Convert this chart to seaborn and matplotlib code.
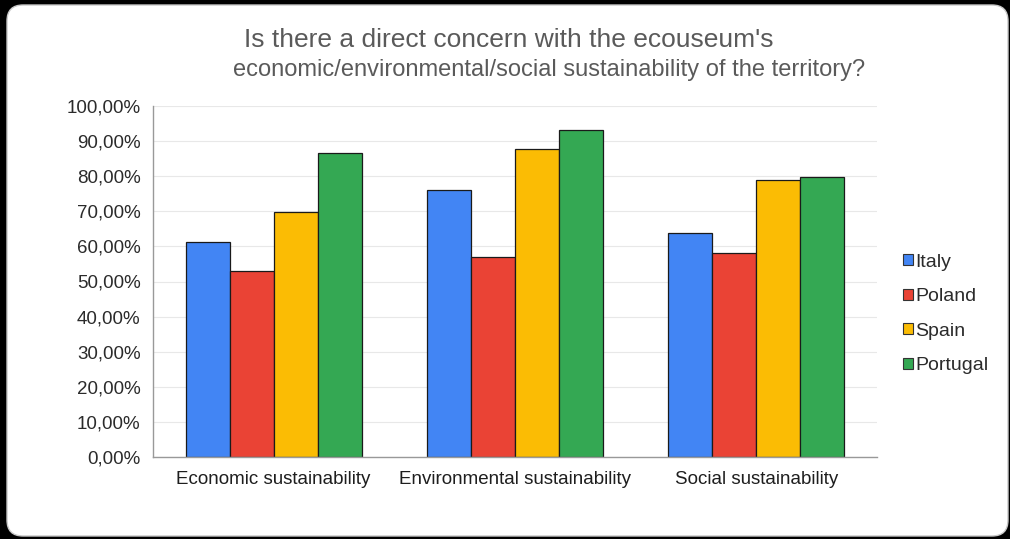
import matplotlib
matplotlib.use("Agg")
import matplotlib.pyplot as plt
from matplotlib.patches import FancyBboxPatch, Patch
import seaborn as sns
import pandas as pd

categories = ["Economic sustainability", "Environmental sustainability", "Social sustainability"]
countries = ["Italy", "Poland", "Spain", "Portugal"]
italy = [61.3, 76.1, 63.9]
poland = [53.0, 57.1, 58.0]
spain = [69.9, 87.7, 78.9]
portugal = [86.5, 93.2, 79.8]
colors = ["#4285F4", "#EA4335", "#FBBC04", "#34A853"]
title_lines = ["Is there a direct concern with the ecouseum's",
               "economic/environmental/social sustainability of the territory?"]

rows = []
for country, vals in zip(countries, [italy, poland, spain, portugal]):
    for cat, v in zip(categories, vals):
        rows.append({"category": cat, "country": country, "value": v})
df = pd.DataFrame(rows)

sns.set_theme(style="white")
plt.rcParams["font.family"] = ["Liberation Sans", "DejaVu Sans"]

fig = plt.figure(figsize=(10.1, 5.39), dpi=100, facecolor="black")
bgax = fig.add_axes([0, 0, 1, 1], zorder=-5)
bgax.set_axis_off()
bgax.set_xlim(0, 1010)
bgax.set_ylim(539, 0)
bg = FancyBboxPatch((7, 5), 1001, 531,
                    boxstyle="round,pad=0,rounding_size=16",
                    facecolor="white", edgecolor="#c8c8c8", linewidth=1.0)
bgax.add_patch(bg)

ax = fig.add_axes([153 / 1010, 1 - 457 / 539, (877 - 153) / 1010, (457 - 106) / 539], zorder=1)
ax.set_facecolor("none")
sns.barplot(data=df, x="category", y="value", hue="country", order=categories,
            hue_order=countries, palette=colors, width=0.73, ax=ax,
            edgecolor="#1a1a1a", linewidth=0.9, saturation=1, legend=False)

ax.set_ylim(0, 100)
ax.set_xlim(-0.5, 2.5)
ax.set_yticks(range(0, 101, 10))
ax.set_yticklabels([f"{v},00%" for v in range(0, 101, 10)], color="#2b2b2b", fontsize=13.5)
ax.tick_params(axis="x", labelsize=13.5, labelcolor="#1e1e1e", pad=10, length=0)
ax.tick_params(axis="y", pad=9, length=0)
ax.yaxis.grid(True, color="#e8e8e8", linewidth=0.8)
ax.set_axisbelow(True)
ax.set_xlabel("")
ax.set_ylabel("")
for s in ["top", "right"]:
    ax.spines[s].set_visible(False)
ax.spines["left"].set_color("#999999")
ax.spines["bottom"].set_color("#999999")
ax.spines["left"].set_linewidth(1.0)
ax.spines["bottom"].set_linewidth(1.0)

handles = [Patch(facecolor=c, edgecolor="#333333", linewidth=0.8) for c in colors]
fig.legend(handles, countries, loc="center left", bbox_to_anchor=(903 / 1010, 1 - 314 / 539),
           frameon=False, fontsize=14, handlelength=0.5, handleheight=0.5,
           handletextpad=0.12, labelspacing=0.9, labelcolor="#2b2b2b",
           borderaxespad=0, borderpad=0)

fig.text(509 / 1010, 1 - 40 / 539, title_lines[0], ha="center", va="center",
         fontsize=19, color="#5a5a5a")
fig.text(549 / 1010, 1 - 70 / 539, title_lines[1], ha="center", va="center",
         fontsize=17, color="#5a5a5a")

fig.savefig("out.png", dpi=100, facecolor="black")
